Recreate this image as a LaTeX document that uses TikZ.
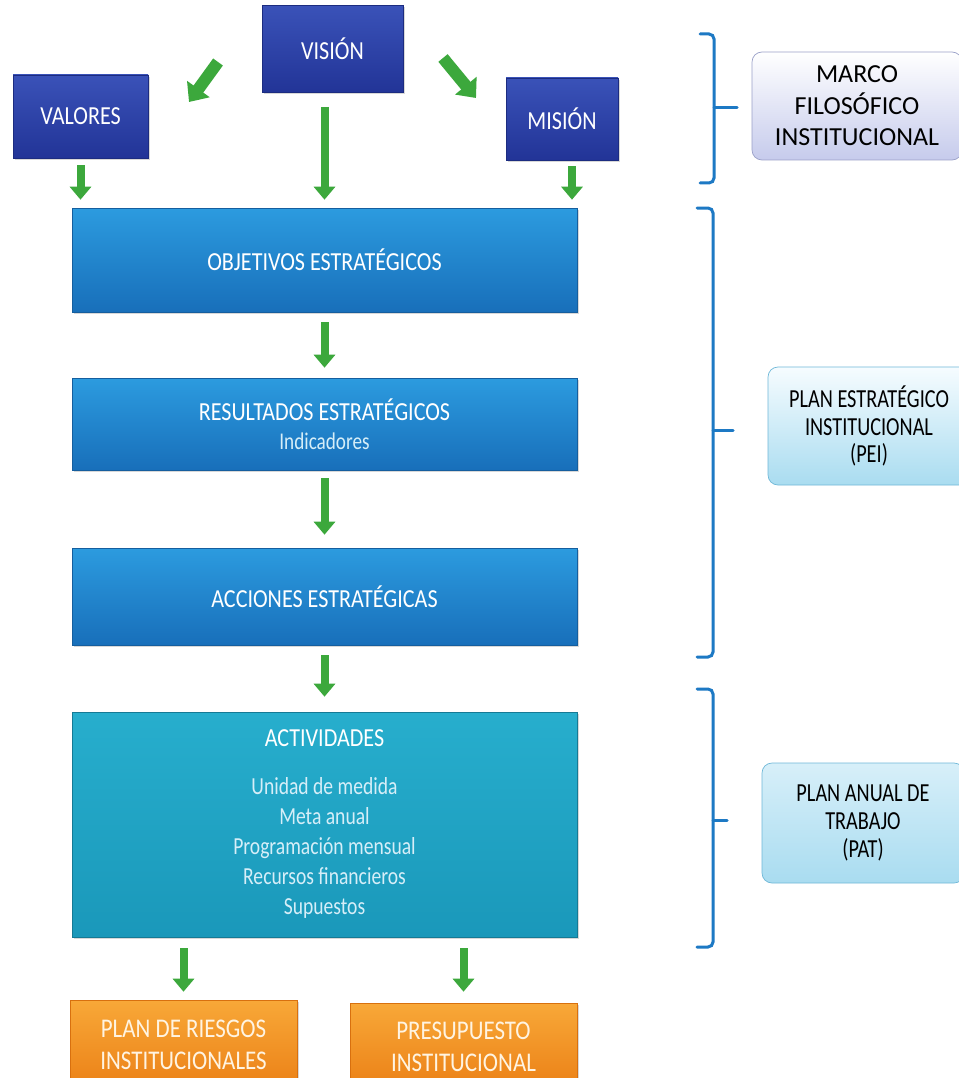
\documentclass[tikz,border=0pt]{standalone}
\usepackage{fontspec}
\setmainfont{Carlito}
\newfontfamily\condf[FakeStretch=0.85]{Carlito}
\newfontfamily\lightf[FakeStretch=0.8]{Carlito}
\newfontfamily\sidef[FakeStretch=0.78]{Carlito}
\usetikzlibrary{arrows.meta,shadows}
\definecolor{dkA}{HTML}{3A52B8}
\definecolor{dkB}{HTML}{223497}
\definecolor{dkE}{HTML}{1C2C80}
\definecolor{stA}{HTML}{2C9BDF}
\definecolor{stB}{HTML}{186FBA}
\definecolor{stE}{HTML}{155E9E}
\definecolor{acA}{HTML}{27AECD}
\definecolor{acB}{HTML}{1A98BA}
\definecolor{orA}{HTML}{F8A838}
\definecolor{orB}{HTML}{EB8016}
\definecolor{orE}{HTML}{D8700E}
\definecolor{garr}{HTML}{3CA83C}
\definecolor{brc}{HTML}{1D79C4}
\definecolor{lighttxt}{HTML}{D6EEF8}
\definecolor{cream}{HTML}{FFF4E2}
\definecolor{mfA}{HTML}{FFFFFF}
\definecolor{mfB}{HTML}{C6CBEC}
\definecolor{mfE}{HTML}{9AA0C8}
\definecolor{peA}{HTML}{F6FCFF}
\definecolor{peB}{HTML}{A9DCF0}
\definecolor{peE}{HTML}{6FB8D8}
\begin{document}
\begin{tikzpicture}[x=1pt,y=-1pt,
  base/.style={rectangle,inner sep=0pt,align=center,
    drop shadow={shadow xshift=1.5pt,shadow yshift=-2pt,opacity=.3}},
  darkbox/.style={base,top color=dkA,bottom color=dkB,draw=dkE,line width=.6pt,
    text=white,font=\condf\fontsize{26}{30}\selectfont},
  stratbox/.style={base,top color=stA,bottom color=stB,draw=stE,line width=.6pt,
    text=white,minimum width=505pt,font=\condf\fontsize{26}{30}\selectfont},
  actbox/.style={base,top color=acA,bottom color=acB,draw=acB!80!black,line width=.6pt,
    text=lighttxt,minimum width=505pt,font=\lightf\fontsize{24.5}{30}\selectfont},
  orbox/.style={base,top color=orA,bottom color=orB,draw=orE,line width=.6pt,
    text=cream,minimum width=227pt,font=\condf\fontsize{27}{32}\selectfont},
  sidebox/.style={rectangle,rounded corners=10pt,inner sep=0pt,align=center,
    line width=.7pt,text=black},
  garrow/.style={draw=garr,line width=8pt,-{Triangle[width=21pt,length=13pt]}},
  gdiag/.style={draw=garr,line width=12pt,-{Triangle[width=27pt,length=16pt]}},
  brace/.style={draw=brc,line width=3pt,rounded corners=5pt,line cap=round}
]
\useasboundingbox (0,0) rectangle (958,1078);
\fill[white] (0,0) rectangle (958,1078);

% top dark boxes
\node[darkbox,minimum width=141pt,minimum height=87pt] (vision) at (332.5,49) {VISIÓN};
\node[darkbox,minimum width=135pt,minimum height=83pt] (valores) at (80.5,116.5) {VALORES};
\node[darkbox,minimum width=112pt,minimum height=82pt] (mision) at (562,119) {MISIÓN};

% strategic boxes
\node[stratbox,minimum height=104pt] (obj) at (324.5,260) {OBJETIVOS ESTRATÉGICOS};
\node[stratbox,minimum height=92pt] (res) at (324.5,424)
  {RESULTADOS ESTRATÉGICOS\\[-1pt]{\lightf\fontsize{24}{28}\selectfont\color{lighttxt}Indicadores}};
\node[stratbox,minimum height=97pt] (acc) at (324.5,596.5) {ACCIONES ESTRATÉGICAS};
\node[actbox,minimum height=225pt] (act) at (324.5,824.5)
  {{\condf\fontsize{26}{30}\selectfont\color{white}ACTIVIDADES}\\[18pt]
   Unidad de medida\\Meta anual\\Programación mensual\\Recursos financieros\\Supuestos};

% bottom orange boxes
\node[orbox,minimum height=90pt] (riesgos) at (183.5,1045) {PLAN DE RIESGOS\\INSTITUCIONALES};
\node[orbox,minimum height=87pt] (presu) at (463.5,1046.5) {PRESUPUESTO\\INSTITUCIONAL};

% right side boxes
\node[sidebox,top color=mfA,bottom color=mfB,draw=mfE,minimum width=210pt,minimum height=108pt,
  font=\fontsize{26}{31.5}\selectfont] (marco) at (857,106) {MARCO\\FILOSÓFICO\\INSTITUCIONAL};
\node[sidebox,top color=peA,bottom color=peB,draw=peE,minimum width=202pt,minimum height=118pt,
  font=\sidef\fontsize{26}{27.5}\selectfont] (pei) at (869,426) {PLAN ESTRATÉGICO\\INSTITUCIONAL\\(PEI)};
\node[sidebox,top color=peA!60!peB,bottom color=peB,draw=peE,minimum width=202pt,minimum height=120pt,
  font=\sidef\fontsize{26}{28}\selectfont] (pat) at (863,823) {PLAN ANUAL DE\\TRABAJO\\(PAT)};

% braces
\coordinate (b1t) at (714,108);
\coordinate (b2t) at (713,430);
\coordinate (b3t) at (713,820);
\draw[brace] (700,34) -- (714,34) -- (714,183) -- (700,183);
\draw[brace,rounded corners=0pt] (b1t) -- (737,108);
\draw[brace] (697,208) -- (713,208) -- (713,657) -- (697,657);
\draw[brace,rounded corners=0pt] (b2t) -- (733,430);
\draw[brace] (697,689) -- (713,689) -- (713,947) -- (697,947);
\draw[brace,rounded corners=0pt] (b3t) -- (727,820);

% diagonal arrows
\coordinate (dl1) at (218,62);
\coordinate (dl2) at (189,102);
\coordinate (dr1) at (443,58);
\coordinate (dr2) at (476,98);
\draw[gdiag] (dl1) -- (dl2);
\draw[gdiag] (dr1) -- (dr2);

% vertical arrows
\draw[garrow,shorten <=7pt,shorten >=8pt] (valores.south) -- (valores.south |- obj.north);
\draw[garrow,shorten <=14pt,shorten >=8pt] (vision.south -| obj.north) -- (obj.north);
\draw[garrow,shorten <=6pt,shorten >=8pt] ([xshift=10pt]mision.south) -- ([xshift=10pt]mision.south |- obj.north);
\draw[garrow,shorten <=10pt,shorten >=10pt] (obj.south) -- (res.north);
\draw[garrow,shorten <=8pt,shorten >=13pt] (res.south) -- (acc.north);
\draw[garrow,shorten <=10pt,shorten >=15pt] (acc.south) -- (act.north);
\draw[garrow,shorten <=11pt,shorten >=8pt] (riesgos.north |- act.south) -- (riesgos.north);
\draw[garrow,shorten <=11pt,shorten >=11pt] (presu.north |- act.south) -- (presu.north);
\end{tikzpicture}
\end{document}
